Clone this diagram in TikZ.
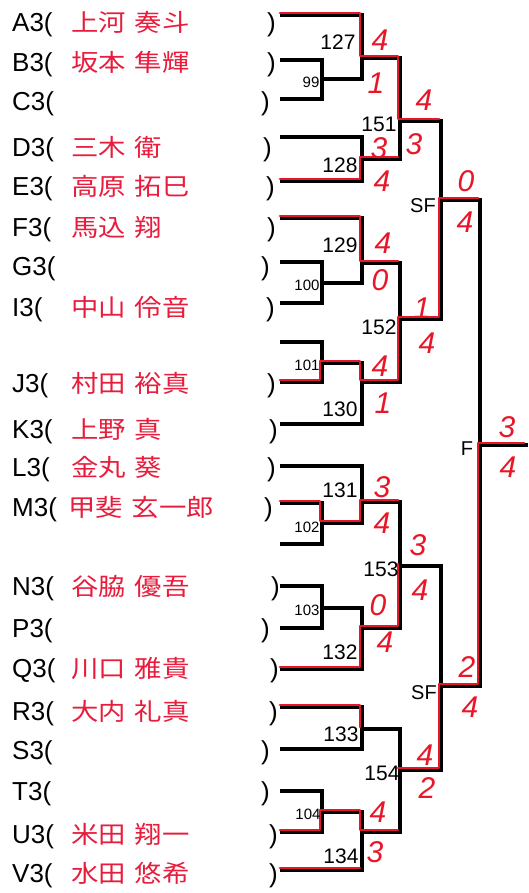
\documentclass[tikz,border=0pt]{standalone}
\usepackage{fontspec}
\setmainfont{Liberation Sans}
\newfontfamily\jpfont[FakeStretch=1.14]{Noto Sans CJK JP}
\definecolor{namered}{RGB}{232,28,60}
\definecolor{penred}{RGB}{232,22,40}
\tikzset{
  br/.style={draw=black, line width=3.2pt, line join=miter, line cap=rect},
  hl/.style={draw=penred, line width=2.8pt, line cap=round, line join=round,
    transform canvas={shift={(-2pt,2pt)}}},
  rowlbl/.style={anchor=base west, inner sep=0pt, font=\fontsize{26}{26}\selectfont},
  nm/.style={anchor=base west, inner sep=0pt, text=namered, font=\jpfont\fontsize{24}{24}\selectfont},
  num/.style={inner sep=0pt, font=\fontsize{21}{21}\selectfont},
  snum/.style={inner sep=0pt, font=\fontsize{15}{15}\selectfont},
  sflbl/.style={inner sep=0pt, font=\fontsize{20}{20}\selectfont},
  hw/.style={inner sep=0pt, text=penred, font=\itshape\fontsize{30}{30}\selectfont},
}
\newcommand\prow[6]{%
  \node[rowlbl] (t#1) at (12,#2+9.5) {#1(};
  \def\tmpname{#3}%
  \ifx\tmpname\empty\else\node[nm] (n#1) at (#6,#2+9.5) {#3};\fi
  \node[rowlbl] (p#1) at (#4-1,#2+9.5) {)};
  \coordinate (s#1) at (282,#5);
}
\begin{document}
\begin{tikzpicture}[x=1pt,y=-1pt]
\useasboundingbox[fill=white] (0,0) rectangle (528,893);
% rows
\prow{A3}{22}{上河\hspace{9pt}奏斗}{268}{15}{71}
\prow{B3}{62}{坂本\hspace{9pt}隼輝}{268}{60}{71}
\prow{C3}{101}{}{262}{99}{71}
\prow{D3}{147}{三木\hspace{9pt}衛}{264}{137}{71}
\prow{E3}{186}{高原\hspace{9pt}拓巳}{267}{181}{71}
\prow{F3}{227}{馬込\hspace{9pt}翔}{268}{218}{71}
\prow{G3}{266}{}{262}{262}{71}
\prow{I3}{307}{中山\hspace{9pt}伶音}{267}{303}{71}
\prow{J3}{383}{村田\hspace{9pt}裕真}{268}{382}{71}
\prow{K3}{429}{上野\hspace{9pt}真}{270}{424}{71}
\prow{L3}{467}{金丸\hspace{9pt}葵}{268}{466}{71}
\prow{M3}{507}{甲斐\hspace{9pt}玄一郎}{265}{503}{68}
\prow{N3}{586}{谷脇\hspace{9pt}優吾}{272}{586}{71}
\prow{P3}{628}{}{262}{628}{71}
\prow{Q3}{668}{川口\hspace{9pt}雅貴}{271}{669}{71}
\prow{R3}{711}{大内\hspace{9pt}礼真}{270}{707}{71}
\prow{S3}{750}{}{262}{749}{71}
\prow{T3}{791}{}{262}{791}{71}
\prow{U3}{834}{米田\hspace{9pt}翔一}{270}{832}{71}
\prow{V3}{873}{水田\hspace{9pt}悠希}{270}{870}{71}
\coordinate (sX1) at (282,342);
\coordinate (sX2) at (282,544);
% match points
\coordinate (m99) at (322,79);
\coordinate (m127) at (362,58);
\coordinate (m128) at (362,159);
\coordinate (m151) at (400,121);
\coordinate (sf1) at (441,200);
\coordinate (m100) at (322,283);
\coordinate (m129) at (362,263);
\coordinate (m101) at (322,363);
\coordinate (m130) at (362,382);
\coordinate (m152) at (400,319);
\coordinate (m102) at (322,523);
\coordinate (m131) at (362,502);
\coordinate (m103) at (322,608);
\coordinate (m132) at (362,628);
\coordinate (m153) at (400,566);
\coordinate (sf2) at (441,686);
\coordinate (m133) at (362,729);
\coordinate (m104) at (322,812);
\coordinate (m134) at (362,832);
\coordinate (m154) at (400,770);
\coordinate (fin) at (480,445);
\coordinate (fend) at (526,445);
% bracket lines
\draw[br] (sA3) -| (m127);
\draw[br] (sB3) -| (m99);
\draw[br] (sC3) -| (m99);
\draw[br] (m99) -| (m127);
\draw[br] (sD3) -| (m128);
\draw[br] (sE3) -| (m128);
\draw[br] (m127) -| (m151);
\draw[br] (m128) -| (m151);
\draw[br] (m151) -| (sf1);
\draw[br] (sF3) -| (m129);
\draw[br] (sG3) -| (m100);
\draw[br] (sI3) -| (m100);
\draw[br] (m100) -| (m129);
\draw[br] (sX1) -| (m101);
\draw[br] (sJ3) -| (m101);
\draw[br] (m101) -| (m130);
\draw[br] (sK3) -| (m130);
\draw[br] (m129) -| (m152);
\draw[br] (m130) -| (m152);
\draw[br] (m152) -| (sf1);
\draw[br] (sf1) -| (fin);
\draw[br] (sL3) -| (m131);
\draw[br] (sM3) -| (m102);
\draw[br] (sX2) -| (m102);
\draw[br] (m102) -| (m131);
\draw[br] (sN3) -| (m103);
\draw[br] (sP3) -| (m103);
\draw[br] (m103) -| (m132);
\draw[br] (sQ3) -| (m132);
\draw[br] (m131) -| (m153);
\draw[br] (m132) -| (m153);
\draw[br] (m153) -| (sf2);
\draw[br] (sR3) -| (m133);
\draw[br] (sS3) -| (m133);
\draw[br] (sT3) -| (m104);
\draw[br] (sU3) -| (m104);
\draw[br] (m104) -| (m134);
\draw[br] (sV3) -| (m134);
\draw[br] (m133) -| (m154);
\draw[br] (m134) -| (m154);
\draw[br] (m154) -| (sf2);
\draw[br] (sf2) -| (fin);
\draw[br] (fin) -- (fend);
% red highlights
\draw[hl] (sA3) -| (m127) -| (m151) -- (m151 -| sf1);
\draw[hl] (sE3) -| (m128) -- (m128 -| m151);
\draw[hl] (sF3) -| (m129) -- (m129 -| m152);
\draw[hl] (sJ3) -| (m101) -| (m130) -| (m152) -| (sf1) -- (sf1 -| fin);
\draw[hl] (sM3) -| (m102) -| (m131) -- (m131 -| m153);
\draw[hl] (sQ3) -| (m132) -| (m153);
\draw[hl] (sR3) -| (m133);
\draw[hl] (m154) -| (sf2) -| (fin) -- (fend);
\draw[hl] (sU3) -| (m104) -| (m134) -- (m134 -| m154);
\draw[hl] (sV3) -- (sV3 -| m134);
% match labels
\node[num] (l127) at (338,42) {127};
\node[snum] (l99) at (311,82) {99};
\node[num] (l128) at (340,165) {128};
\node[num] (l151) at (379,124) {151};
\node[sflbl] (lsf1) at (423,206) {SF};
\node[num] (l129) at (340,245) {129};
\node[snum] (l100) at (307,285) {100};
\node[snum] (l101) at (307,365) {101};
\node[num] (l130) at (340,409) {130};
\node[num] (l152) at (379,327) {152};
\node[sflbl] (lfin) at (467,449) {F};
\node[num] (l131) at (340,490) {131};
\node[snum] (l102) at (307,527) {102};
\node[num] (l153) at (381,569) {153};
\node[snum] (l103) at (307,610) {103};
\node[num] (l132) at (340,652) {132};
\node[sflbl] (lsf2) at (424,693) {SF};
\node[num] (l133) at (341,734) {133};
\node[num] (l154) at (382,773) {154};
\node[snum] (l104) at (308,814) {104};
\node[num] (l134) at (341,856) {134};
% handwritten scores
\node[hw] (h1) at (380,40) {4};
\node[hw] (h2) at (376,83) {1};
\node[hw] (h3) at (379,148) {3};
\node[hw] (h4) at (382,181) {4};
\node[hw] (h5) at (424,100) {4};
\node[hw] (h6) at (414,144) {3};
\node[hw] (h7) at (466,181) {0};
\node[hw] (h8) at (465,222) {4};
\node[hw] (h9) at (383,243) {4};
\node[hw] (h10) at (380,280) {0};
\node[hw] (h11) at (422,308) {1};
\node[hw] (h12) at (427,343) {4};
\node[hw] (h13) at (380,366) {4};
\node[hw] (h14) at (383,403) {1};
\node[hw] (h15) at (507,427) {3};
\node[hw] (h16) at (508,467) {4};
\node[hw] (h17) at (382,487) {3};
\node[hw] (h18) at (382,523) {4};
\node[hw] (h19) at (418,545) {3};
\node[hw] (h20) at (420,590) {4};
\node[hw] (h21) at (378,605) {0};
\node[hw] (h22) at (385,642) {4};
\node[hw] (h23) at (467,667) {2};
\node[hw] (h24) at (470,707) {4};
\node[hw] (h25) at (425,755) {4};
\node[hw] (h26) at (427,788) {2};
\node[hw] (h27) at (378,812) {4};
\node[hw] (h28) at (375,852) {3};
\end{tikzpicture}
\end{document}
